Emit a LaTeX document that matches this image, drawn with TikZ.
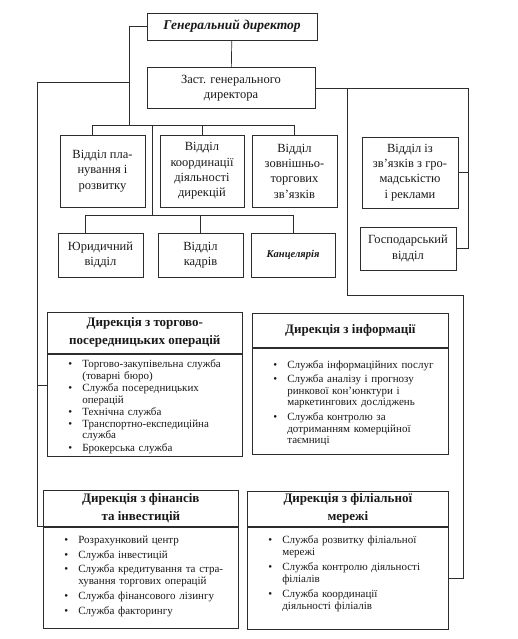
\documentclass[tikz,border=0pt]{standalone}
\usepackage{fontspec}
\setmainfont{Liberation Serif}
\usepackage{tikz}
\usetikzlibrary{positioning}
\definecolor{inkgray}{RGB}{45, 45, 45}
\definecolor{textgray}{RGB}{25, 25, 25}
\tikzset{
  link/.style={draw=inkgray, line width=0.7pt},
  unit/.style={draw=inkgray, line width=0.7pt, align=center, inner sep=2pt, text=textgray, font=\fontsize{12.5}{15.3}\selectfont},
  chief/.style={unit, font=\fontsize{13.5}{15}\selectfont\bfseries\itshape},
  dirhead/.style={draw=inkgray, line width=0.7pt, align=center, inner sep=2pt, text=textgray, font=\fontsize{13}{18}\selectfont\bfseries},
  dirbody/.style={draw=inkgray, line width=0.7pt, align=left, inner xsep=3pt, inner ysep=2pt, text=textgray, font=\fontsize{11}{11.5}\selectfont},
}
\newcommand{\srv}[1]{\par\noindent\hspace*{18pt}\makebox[14pt][l]{\textbullet}\parbox[t]{\dimexpr\hsize-34pt\relax}{\raggedright\strut #1\strut}}
\newcommand{\padbottom}[1]{\par\vskip#1\kern0pt}

\begin{document}
\begin{tikzpicture}[x=1pt, y=-1pt]
  \useasboundingbox (0,0) rectangle (517,639);

  % Top management
  \node[chief, minimum width=170pt, minimum height=27pt] (gd) at (232,26.5) {Генеральний директор};
  \node[unit, minimum width=168pt, minimum height=41pt] (dep) at (231,88) {Заст. генерального\\директора};

  % Departments under the general director
  \node[unit, minimum width=85pt, minimum height=72pt] (plan) at (102.5,171) {Відділ пла-\\нування і\\розвитку};
  \node[unit, minimum width=84pt, minimum height=72pt] (koord) at (202,171) {Відділ\\координації\\діяльності\\дирекцій};
  \node[unit, minimum width=85pt, minimum height=72pt] (zov) at (294.5,171) {Відділ\\зовнішньо-\\торгових\\зв’язків};
  \node[unit, minimum width=85pt, minimum height=44pt] (jur) at (100.5,255) {Юридичний\\відділ};
  \node[unit, minimum width=85pt, minimum height=44pt] (kadr) at (200.5,255) {Відділ\\кадрів};
  \node[unit, minimum width=84pt, minimum height=44pt, font=\fontsize{10.5}{12}\selectfont\bfseries\itshape] (kanc) at (293,255) {Канцелярія};

  % Departments under the deputy
  \node[unit, minimum width=96pt, minimum height=71pt] (zvz) at (410,172.5) {Відділ із\\зв’язків з гро-\\мадськістю\\і реклами};
  \node[unit, minimum width=96pt, minimum height=43pt] (gosp) at (408,248.5) {Господарський\\відділ};

  % Directorates
  \node[dirhead, anchor=north west, minimum width=195pt, minimum height=41pt] (trh) at (47,312) {Дирекція з торгово-\\посередницьких операцій};
  \node[dirbody, below=0pt of trh.south west, anchor=north west, text width=189pt, minimum height=99pt] (trb) {%
    \srv{Торгово-закупівельна служба\\(товарні бюро)}
    \srv{Служба посередницьких\\операцій}
    \srv{Технічна служба}
    \srv{Транспортно-експедиційна\\служба}
    \srv{Брокерська служба}};

  \node[dirhead, anchor=north west, minimum width=196pt, minimum height=34pt] (inh) at (252,313) {Дирекція з інформації};
  \node[dirbody, below=0pt of inh.south west, anchor=north west, text width=190pt, minimum height=106pt] (inb) {%
    \setlength{\parskip}{2.5pt}%
    \srv{Служба інформаційних послуг}
    \srv{Служба аналізу і прогнозу\\ринкової кон’юнктури і\\маркетингових досліджень}
    \srv{Служба контролю за\\дотриманням комерційної\\таємниці}};

  \node[dirhead, anchor=north west, minimum width=195pt, minimum height=36pt] (fnh) at (43,490) {Дирекція з фінансів\\та інвестицій};
  \node[dirbody, below=0pt of fnh.south west, anchor=north west, text width=189pt, minimum height=101pt] (fnb) {%
    \setlength{\parskip}{3pt}%
    \srv{Розрахунковий центр}
    \srv{Служба інвестицій}
    \srv{Служба кредитування та стра-\\хування торгових операцій}
    \srv{Служба фінансового лізингу}
    \srv{Служба факторингу}
    \padbottom{8pt}};

  \node[dirhead, anchor=north west, minimum width=201pt, minimum height=35pt] (flh) at (247,491) {Дирекція з філіальної\\мережі};
  \node[dirbody, below=0pt of flh.south west, anchor=north west, text width=195pt, minimum height=102pt] (flb) {%
    \setlength{\parskip}{3pt}%
    \srv{Служба розвитку філіальної\\мережі}
    \srv{Служба контролю діяльності\\філіалів}
    \srv{Служба координації\\діяльності філіалів}
    \padbottom{14pt}};

  % Connectors
  \coordinate (bar1) at (129,125);
  \coordinate (bar2) at (152,215);
  \coordinate (tj) at (129,82);
  \coordinate (lft) at (37,82);
  \coordinate (rt) at (468,88);
  \coordinate (rm) at (347,88);
  \coordinate (rb) at (347,295);
  \coordinate (rr) at (463,295);
  \coordinate (trj) at ([yshift=20pt]trb.west);

  \draw[link] (gd) -- (dep);
  \draw[link] (gd.west) -| (bar1);
  \draw[link] ([xshift=-10pt]plan.north) |- (zov.north |- bar1) -- (zov.north);
  \draw[link] (koord.north) -- (koord.north |- bar1);
  \draw[link] (bar2 |- bar1) -- (bar2);
  \draw[link] ([xshift=-15pt]jur.north) |- (kanc.north |- bar2) -- (kanc.north);
  \draw[link] (kadr.north) -- (kadr.north |- bar2);

  \draw[link] (tj) -- (lft) |- (fnh.south west);
  \draw[link] (trj) -- (lft |- trj);

  \draw[link] (dep.east) -- (rt) |- (gosp.east);
  \draw[link] (zvz.east) -- (zvz.east -| rt);
  \draw[link] (rm) -- (rb) -- (rr) |- (flb.east);
\end{tikzpicture}
\end{document}
